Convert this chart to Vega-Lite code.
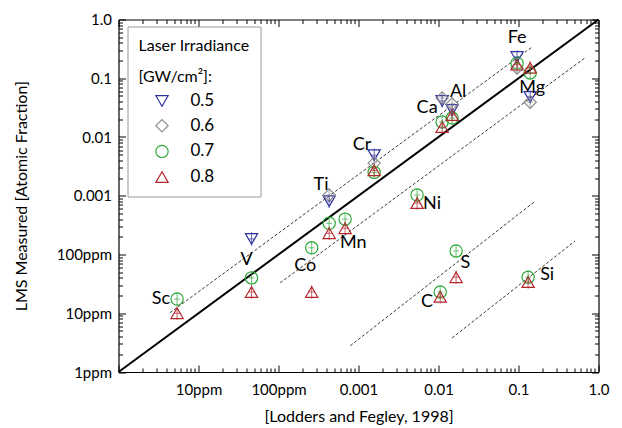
{
  "$schema": "https://vega.github.io/schema/vega-lite/v6.json",
  "width": 480,
  "height": 352.5,
  "autosize": {"type": "none"},
  "padding": {"left": 118.5, "top": 19.5, "right": 23.5, "bottom": 56},
  "config": {
    "font": "Lato",
    "view": {"stroke": null},
    "axis": {
      "grid": false,
      "domainColor": "black",
      "domainWidth": 1.2,
      "tickColor": "black",
      "tickWidth": 1,
      "labelColor": "black",
      "labelFont": "Lato",
      "labelFontSize": 15,
      "titleFont": "Lato",
      "titleFontSize": 16,
      "titleFontWeight": "normal",
      "titleColor": "black",
      "labelFlush": false,
      "labelOverlap": false
    },
    "legend": {
      "titleFont": "Lato",
      "titleFontSize": 16,
      "titleFontWeight": "normal",
      "titleColor": "black",
      "titleLineHeight": 31,
      "titleLimit": 300,
      "titlePadding": 8,
      "labelFont": "Lato",
      "labelFontSize": 17,
      "labelColor": "black",
      "strokeColor": "#9a9a9a",
      "padding": 11,
      "symbolSize": 150,
      "symbolStrokeWidth": 1.2,
      "symbolOffset": 15,
      "labelOffset": 20,
      "rowPadding": 6.7
    }
  },
  "datasets": {
    "pts": [
      {"element": "Sc", "irr": "0.7", "x": 5.4e-6, "y": 1.75e-5},
      {"element": "Sc", "irr": "0.8", "x": 5.4e-6, "y": 1.0e-5},
      {"element": "V", "irr": "0.5", "x": 4.6e-5, "y": 1.84e-4},
      {"element": "V", "irr": "0.7", "x": 4.6e-5, "y": 4.0e-5},
      {"element": "V", "irr": "0.8", "x": 4.6e-5, "y": 2.3e-5},
      {"element": "Ti", "irr": "0.5", "x": 4.3e-4, "y": 8.1e-4},
      {"element": "Ti", "irr": "0.6", "x": 4.3e-4, "y": 1.03e-3},
      {"element": "Ti", "irr": "0.7", "x": 4.3e-4, "y": 3.4e-4},
      {"element": "Ti", "irr": "0.8", "x": 4.3e-4, "y": 2.3e-4},
      {"element": "Mn", "irr": "0.7", "x": 6.8e-4, "y": 4.0e-4},
      {"element": "Mn", "irr": "0.8", "x": 6.8e-4, "y": 2.8e-4},
      {"element": "Cr", "irr": "0.5", "x": 1.57e-3, "y": 4.9e-3},
      {"element": "Cr", "irr": "0.6", "x": 1.57e-3, "y": 3.6e-3},
      {"element": "Cr", "irr": "0.7", "x": 1.57e-3, "y": 2.5e-3},
      {"element": "Cr", "irr": "0.8", "x": 1.57e-3, "y": 2.7e-3},
      {"element": "Co", "irr": "0.7", "x": 2.6e-4, "y": 1.3e-4},
      {"element": "Co", "irr": "0.8", "x": 2.6e-4, "y": 2.3e-5},
      {"element": "Ni", "irr": "0.7", "x": 5.4e-3, "y": 1.03e-3},
      {"element": "Ni", "irr": "0.8", "x": 5.4e-3, "y": 7.5e-4},
      {"element": "Ca", "irr": "0.5", "x": 0.0111, "y": 0.041},
      {"element": "Ca", "irr": "0.6", "x": 0.0111, "y": 0.046},
      {"element": "Ca", "irr": "0.7", "x": 0.0111, "y": 0.018},
      {"element": "Ca", "irr": "0.8", "x": 0.0111, "y": 0.0148},
      {"element": "Al", "irr": "0.5", "x": 0.0148, "y": 0.0288},
      {"element": "Al", "irr": "0.6", "x": 0.0148, "y": 0.0365},
      {"element": "Al", "irr": "0.7", "x": 0.0148, "y": 0.021},
      {"element": "Al", "irr": "0.8", "x": 0.0148, "y": 0.0237},
      {"element": "Fe", "irr": "0.5", "x": 0.096, "y": 0.23},
      {"element": "Fe", "irr": "0.6", "x": 0.096, "y": 0.15},
      {"element": "Fe", "irr": "0.7", "x": 0.096, "y": 0.18},
      {"element": "Fe", "irr": "0.8", "x": 0.096, "y": 0.17},
      {"element": "Mg", "irr": "0.5", "x": 0.14, "y": 0.048},
      {"element": "Mg", "irr": "0.6", "x": 0.14, "y": 0.039},
      {"element": "Mg", "irr": "0.7", "x": 0.14, "y": 0.123},
      {"element": "Mg", "irr": "0.8", "x": 0.14, "y": 0.15},
      {"element": "S", "irr": "0.7", "x": 0.0166, "y": 1.15e-4},
      {"element": "S", "irr": "0.8", "x": 0.0166, "y": 4.1e-5},
      {"element": "C", "irr": "0.7", "x": 0.0105, "y": 2.3e-5},
      {"element": "C", "irr": "0.8", "x": 0.0105, "y": 1.9e-5},
      {"element": "Si", "irr": "0.7", "x": 0.132, "y": 4.1e-5},
      {"element": "Si", "irr": "0.8", "x": 0.132, "y": 3.4e-5}
    ],
    "labels": [
      {"element": "Sc", "x": 3.4e-6, "y": 1.75e-5},
      {"element": "V", "x": 4.0e-5, "y": 8.1e-5},
      {"element": "Ti", "x": 3.4e-4, "y": 1.52e-3},
      {"element": "Cr", "x": 1.11e-3, "y": 7.3e-3},
      {"element": "Co", "x": 2.16e-4, "y": 6.4e-5},
      {"element": "Mn", "x": 8.6e-4, "y": 1.57e-4},
      {"element": "Ni", "x": 8.3e-3, "y": 7.2e-4},
      {"element": "Ca", "x": 7.2e-3, "y": 0.031},
      {"element": "Al", "x": 0.0176, "y": 0.058},
      {"element": "Fe", "x": 0.096, "y": 0.48},
      {"element": "Mg", "x": 0.148, "y": 0.068},
      {"element": "C", "x": 7.2e-3, "y": 1.55e-5},
      {"element": "S", "x": 0.0216, "y": 7.2e-5},
      {"element": "Si", "x": 0.228, "y": 4.5e-5}
    ],
    "lines": [
      {"line": "diag", "x": 1e-6, "y": 1e-6},
      {"line": "diag", "x": 1, "y": 1},
      {"line": "up", "x": 4.4e-6, "y": 1.02e-5},
      {"line": "up", "x": 0.148, "y": 0.34},
      {"line": "low", "x": 1.05e-4, "y": 3.3e-5},
      {"line": "low", "x": 0.7, "y": 0.23},
      {"line": "s1", "x": 7.9e-4, "y": 2.8e-6},
      {"line": "s1", "x": 0.162, "y": 8.1e-4},
      {"line": "s2", "x": 0.0148, "y": 3.8e-6},
      {"line": "s2", "x": 0.51, "y": 1.7e-4}
    ]
  },
  "resolve": {"axis": {"x": "independent", "y": "independent"}},
  "layer": [
    {
      "data": {"name": "lines"},
      "encoding": {
        "x": {
          "field": "x", "type": "quantitative",
          "scale": {"type": "log", "domain": [1e-6, 1], "nice": false},
          "axis": {
            "orient": "top", "title": null, "labels": false,
            "values": [1e-6,2e-6,3e-6,4e-6,5e-6,6e-6,7e-6,8e-6,9e-6,1e-5,2e-5,3e-5,4e-5,5e-5,6e-5,7e-5,8e-5,9e-5,1e-4,2e-4,3e-4,4e-4,5e-4,6e-4,7e-4,8e-4,9e-4,0.001,0.002,0.003,0.004,0.005,0.006,0.007,0.008,0.009,0.01,0.02,0.03,0.04,0.05,0.06,0.07,0.08,0.09,0.1,0.2,0.3,0.4,0.5,0.6,0.7,0.8,0.9,1],
            "tickSize": {"condition": {"test": "indexof([1e-6,1e-5,1e-4,0.001,0.01,0.1,1], datum.value) >= 0", "value": -7}, "value": -4}
          }
        },
        "y": {
          "field": "y", "type": "quantitative",
          "scale": {"type": "log", "domain": [1e-6, 1], "nice": false},
          "axis": {
            "orient": "right", "title": null, "labels": false,
            "values": [1e-6,2e-6,3e-6,4e-6,5e-6,6e-6,7e-6,8e-6,9e-6,1e-5,2e-5,3e-5,4e-5,5e-5,6e-5,7e-5,8e-5,9e-5,1e-4,2e-4,3e-4,4e-4,5e-4,6e-4,7e-4,8e-4,9e-4,0.001,0.002,0.003,0.004,0.005,0.006,0.007,0.008,0.009,0.01,0.02,0.03,0.04,0.05,0.06,0.07,0.08,0.09,0.1,0.2,0.3,0.4,0.5,0.6,0.7,0.8,0.9,1],
            "tickSize": {"condition": {"test": "indexof([1e-6,1e-5,1e-4,0.001,0.01,0.1,1], datum.value) >= 0", "value": -7}, "value": -4}
          }
        }
      },
      "layer": [
        {
          "transform": [{"filter": "datum.line != 'diag'"}],
          "mark": {"type": "line", "color": "#222222", "strokeWidth": 0.9, "strokeDash": [3, 2]},
          "encoding": {"detail": {"field": "line"}}
        },
        {
          "transform": [{"filter": "datum.line == 'diag'"}],
          "mark": {"type": "line", "color": "black", "strokeWidth": 2},
          "encoding": {}
        }
      ]
    },
    {
      "encoding": {
        "x": {
          "field": "x", "type": "quantitative",
          "scale": {"type": "log", "domain": [1e-6, 1], "nice": false},
          "axis": {
            "orient": "bottom", "title": "[Lodders and Fegley, 1998]",
            "titlePadding": 8, "labelPadding": 17,
            "values": [1e-6,2e-6,3e-6,4e-6,5e-6,6e-6,7e-6,8e-6,9e-6,1e-5,2e-5,3e-5,4e-5,5e-5,6e-5,7e-5,8e-5,9e-5,1e-4,2e-4,3e-4,4e-4,5e-4,6e-4,7e-4,8e-4,9e-4,0.001,0.002,0.003,0.004,0.005,0.006,0.007,0.008,0.009,0.01,0.02,0.03,0.04,0.05,0.06,0.07,0.08,0.09,0.1,0.2,0.3,0.4,0.5,0.6,0.7,0.8,0.9,1],
            "labelExpr": "datum.value == 1e-5 ? '10ppm' : datum.value == 1e-4 ? '100ppm' : datum.value == 0.001 ? '0.001' : datum.value == 0.01 ? '0.01' : datum.value == 0.1 ? '0.1' : datum.value == 1 ? '1.0' : ''",
            "tickSize": {"condition": {"test": "indexof([1e-6,1e-5,1e-4,0.001,0.01,0.1,1], datum.value) >= 0", "value": -7}, "value": -4}
          }
        },
        "y": {
          "field": "y", "type": "quantitative",
          "scale": {"type": "log", "domain": [1e-6, 1], "nice": false},
          "axis": {
            "orient": "left", "title": "LMS Measured [Atomic Fraction]",
            "titlePadding": 27, "labelPadding": 14,
            "values": [1e-6,2e-6,3e-6,4e-6,5e-6,6e-6,7e-6,8e-6,9e-6,1e-5,2e-5,3e-5,4e-5,5e-5,6e-5,7e-5,8e-5,9e-5,1e-4,2e-4,3e-4,4e-4,5e-4,6e-4,7e-4,8e-4,9e-4,0.001,0.002,0.003,0.004,0.005,0.006,0.007,0.008,0.009,0.01,0.02,0.03,0.04,0.05,0.06,0.07,0.08,0.09,0.1,0.2,0.3,0.4,0.5,0.6,0.7,0.8,0.9,1],
            "labelExpr": "datum.value == 1e-6 ? '1ppm' : datum.value == 1e-5 ? '10ppm' : datum.value == 1e-4 ? '100ppm' : datum.value == 0.001 ? '0.001' : datum.value == 0.01 ? '0.01' : datum.value == 0.1 ? '0.1' : datum.value == 1 ? '1.0' : ''",
            "tickSize": {"condition": {"test": "indexof([1e-6,1e-5,1e-4,0.001,0.01,0.1,1], datum.value) >= 0", "value": -7}, "value": -4}
          }
        }
      },
      "layer": [
        {
          "data": {"name": "pts"},
          "mark": {"type": "point", "filled": false, "size": 150, "strokeWidth": 1.2, "opacity": 1},
          "encoding": {
            "color": {
              "field": "irr", "type": "nominal",
              "scale": {"domain": ["0.5", "0.6", "0.7", "0.8"], "range": ["#2e31a0", "#8c8c8c", "#2ea836", "#b3262c"]},
              "legend": {"title": ["Laser Irradiance", "[GW/cm²]:"], "orient": "none", "legendX": 9, "legendY": 7}
            },
            "shape": {
              "field": "irr", "type": "nominal",
              "scale": {"domain": ["0.5", "0.6", "0.7", "0.8"], "range": ["triangle-down", "diamond", "circle", "triangle-up"]},
              "legend": {"title": ["Laser Irradiance", "[GW/cm²]:"], "orient": "none", "legendX": 9, "legendY": 7}
            }
          }
        },
        {
          "data": {"name": "pts"},
          "mark": {"type": "point", "filled": false, "size": 180, "strokeWidth": 0.9, "opacity": 0.8, "shape": "M-0.45,0H0.45M0,-1V1"},
          "encoding": {
            "color": {"field": "irr", "type": "nominal", "legend": null}
          }
        },
        {
          "data": {"name": "labels"},
          "mark": {"type": "text", "fontSize": 18, "font": "Lato", "color": "black", "align": "center", "baseline": "middle"},
          "encoding": {"text": {"field": "element"}}
        }
      ]
    }
  ]
}
